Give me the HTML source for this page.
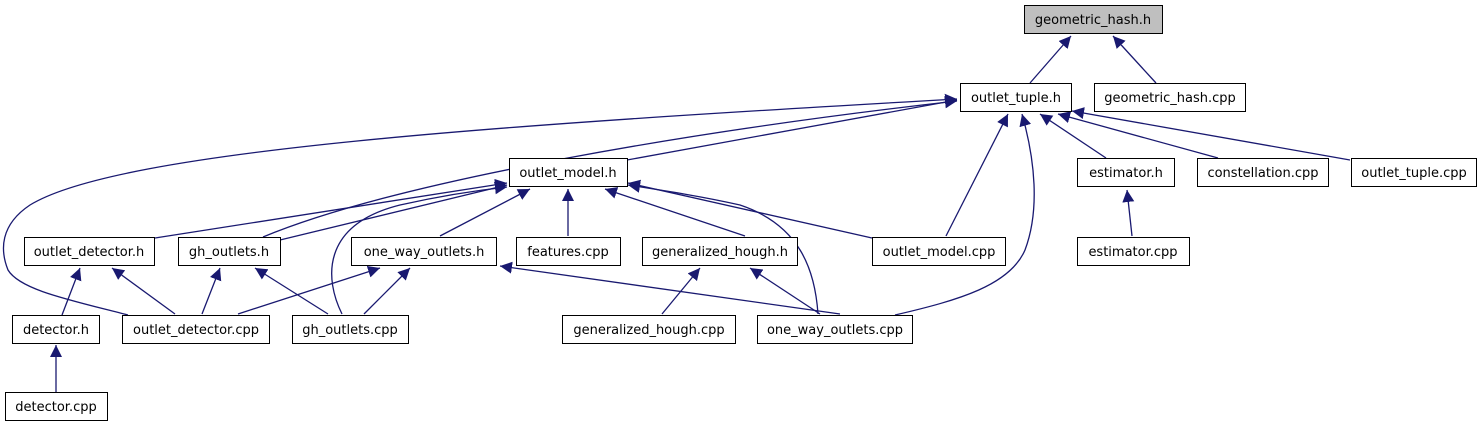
<!DOCTYPE html>
<html><head><meta charset="utf-8"><style>
html,body{margin:0;padding:0;background:#fff;width:1483px;height:427px;overflow:hidden}
text{font-family:"DejaVu Sans","Liberation Sans",sans-serif;font-size:13px;fill:#000}
</style></head><body>
<svg width="1483" height="427" viewBox="0 0 1483 427" xmlns="http://www.w3.org/2000/svg">
<defs><marker id="a" viewBox="0 0 10 10" refX="10" refY="5" markerWidth="12" markerHeight="12" markerUnits="userSpaceOnUse" orient="auto"><path d="M0,0L10,5L0,10z" fill="#191970"/></marker></defs>
<g fill="none" stroke="#191970" stroke-width="1.3" marker-end="url(#a)">
<path d="M1030,83L1071,36"/>
<path d="M1156,83L1113,36"/>
<path d="M627,160L957,100"/>
<path d="M1106,158L1040,114"/>
<path d="M1218,158L1058,114"/>
<path d="M1350,160L1072,111"/>
<path d="M946,236L1008,114"/>
<path d="M895,315C960,300 1010,285 1025,250C1040,210 1035,160 1022,114"/>
<path d="M263,237C400,180 700,130 957,101"/>
<path d="M128,315C70,300 20,290 8,270C0,250 0,225 30,205C120,150 500,125 957,99"/>
<path d="M155,238L507,183"/>
<path d="M280,240L507,185"/>
<path d="M440,236L530,189"/>
<path d="M568,236L568,189"/>
<path d="M745,236L605,189"/>
<path d="M872,238L628,183"/>
<path d="M342,314C325,280 320,225 400,205C440,196 480,190 507,187"/>
<path d="M818,314C815,270 800,225 740,205C700,196 660,190 628,185"/>
<path d="M62,315L80,268"/>
<path d="M175,314L112,268"/>
<path d="M202,314L220,268"/>
<path d="M328,314L255,268"/>
<path d="M238,314L380,268"/>
<path d="M364,314L410,268"/>
<path d="M840,314L500,266"/>
<path d="M662,314L700,268"/>
<path d="M820,314L750,268"/>
<path d="M1132,236L1127,190"/>
<path d="M56,392L56,345"/>
</g>
<g stroke="#000" stroke-width="1" fill="#fff">
<rect x="1024.5" y="5.5" width="138" height="28" fill="#bfbfbf"/>
<rect x="960.5" y="83.5" width="111" height="28"/>
<rect x="1094.5" y="83.5" width="151" height="28"/>
<rect x="509.5" y="158.5" width="118" height="28"/>
<rect x="1077.5" y="158.5" width="97" height="28"/>
<rect x="1197.5" y="158.5" width="131" height="28"/>
<rect x="1351.5" y="158.5" width="125" height="28"/>
<rect x="24.5" y="237.5" width="130" height="28"/>
<rect x="178.5" y="237.5" width="102" height="28"/>
<rect x="351.5" y="237.5" width="145" height="28"/>
<rect x="516.5" y="237.5" width="104" height="28"/>
<rect x="642.5" y="237.5" width="155" height="28"/>
<rect x="872.5" y="237.5" width="133" height="28"/>
<rect x="1077.5" y="237.5" width="112" height="28"/>
<rect x="12.5" y="315.5" width="87" height="28"/>
<rect x="122.5" y="315.5" width="147" height="28"/>
<rect x="292.5" y="315.5" width="116" height="28"/>
<rect x="562.5" y="315.5" width="173" height="28"/>
<rect x="757.5" y="315.5" width="155" height="28"/>
<rect x="5.5" y="392.5" width="102" height="28"/>
</g>
<g text-anchor="middle">
<text x="1093" y="24">geometric_hash.h</text>
<text x="1016" y="102">outlet_tuple.h</text>
<text x="1170" y="102">geometric_hash.cpp</text>
<text x="568" y="177">outlet_model.h</text>
<text x="1126" y="177">estimator.h</text>
<text x="1263" y="177">constellation.cpp</text>
<text x="1414" y="177">outlet_tuple.cpp</text>
<text x="89" y="256">outlet_detector.h</text>
<text x="229" y="256">gh_outlets.h</text>
<text x="424" y="256">one_way_outlets.h</text>
<text x="568" y="256">features.cpp</text>
<text x="720" y="256">generalized_hough.h</text>
<text x="939" y="256">outlet_model.cpp</text>
<text x="1133" y="256">estimator.cpp</text>
<text x="56" y="334">detector.h</text>
<text x="196" y="334">outlet_detector.cpp</text>
<text x="350" y="334">gh_outlets.cpp</text>
<text x="649" y="334">generalized_hough.cpp</text>
<text x="835" y="334">one_way_outlets.cpp</text>
<text x="56" y="411">detector.cpp</text>
</g>
</svg>
</body></html>
